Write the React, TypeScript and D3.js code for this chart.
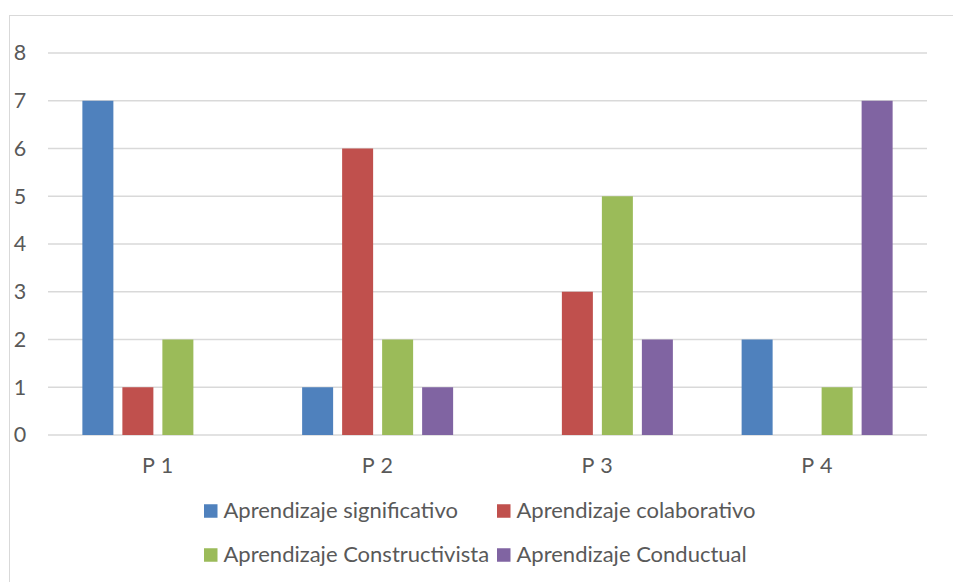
import React from "react";
import * as d3 from "d3";

const categories = ["P 1", "P 2", "P 3", "P 4"];
const seriesNames = [
  "Aprendizaje significativo",
  "Aprendizaje colaborativo",
  "Aprendizaje Constructivista",
  "Aprendizaje Conductual",
];
const seriesColors = ["#4f81bd", "#c0504d", "#9bbb59", "#8064a2"];
const significativo = [7, 1, 0, 2];
const colaborativo = [1, 6, 3, 0];
const constructivista = [2, 2, 5, 1];
const conductual = [0, 1, 2, 7];
const yTicks = [0, 1, 2, 3, 4, 5, 6, 7, 8];

const series = [significativo, colaborativo, constructivista, conductual];

export default function App() {
  const W = 953;
  const H = 582;
  const plotL = 48;
  const plotR = 927;
  const y = d3.scaleLinear().domain([0, 8]).range([435, 53]);
  const x0 = d3.scaleBand().domain(categories).range([plotL, plotR]).paddingInner(0).paddingOuter(0);
  const groupW = 151;
  const x1 = d3
    .scaleBand()
    .domain(seriesNames)
    .range([0, groupW])
    .paddingInner(9 / 40)
    .paddingOuter(0);
  const font = "Lato, 'Open Sans', sans-serif";
  const fs = 21.5;
  const legendPos = [
    [204, 511],
    [497, 511],
    [204, 555],
    [497, 555],
  ];
  return (
    <svg
      width={W}
      height={H}
      style={{ position: "absolute", left: 0, top: 0, background: "#fff" }}
    >
      <rect x={9.5} y={15.5} width={W} height={H} fill="#fff" stroke="#d9d9d9" strokeWidth={1} />
      {yTicks.map((t) => (
        <g key={t}>
          <line x1={plotL} x2={plotR} y1={y(t)} y2={y(t)} stroke="#d9d9d9" strokeWidth={1.3} />
          <text
            x={20}
            y={y(t)}
            dy="0.34em"
            fontSize={fs}
            fill="#595959"
            fontFamily={font}
            textAnchor="middle"
          >
            {t}
          </text>
        </g>
      ))}
      {categories.map((c, ci) => {
        const gx = (x0(c) as number) + (x0.bandwidth() - groupW) / 2;
        return (
          <g key={c}>
            {series.map((s, si) =>
              s[ci] > 0 ? (
                <rect
                  key={si}
                  x={gx + (x1(seriesNames[si]) as number)}
                  y={y(s[ci])}
                  width={x1.bandwidth()}
                  height={y(0) - y(s[ci])}
                  fill={seriesColors[si]}
                />
              ) : null
            )}
            <text
              x={(x0(c) as number) + x0.bandwidth() / 2}
              y={473}
              fontSize={fs}
              fill="#595959"
              fontFamily={font}
              textAnchor="middle"
              letterSpacing={0.5}
            >
              {c}
            </text>
          </g>
        );
      })}
      {seriesNames.map((n, i) => (
        <g key={n} transform={`translate(${legendPos[i][0]},${legendPos[i][1]})`}>
          <rect x={0} y={-6.75} width={13.5} height={13.5} fill={seriesColors[i]} />
          <text x={19.5} y={7} fontSize={22} fill="#595959" fontFamily={font}>
            {n}
          </text>
        </g>
      ))}
    </svg>
  );
}
